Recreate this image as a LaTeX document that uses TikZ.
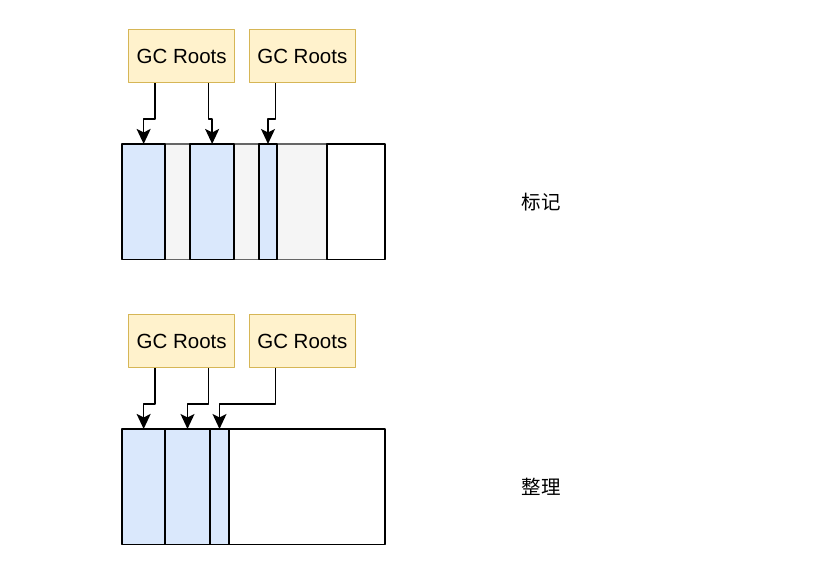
\documentclass[tikz,border=0pt]{standalone}
\usepackage{fontspec}
\setmainfont{Liberation Sans}
\newfontfamily\cjk{Noto Sans CJK SC}
\usetikzlibrary{arrows.meta, calc, positioning}
\definecolor{root_fill}{HTML}{FFF2CC}
\definecolor{root_line}{HTML}{D6B656}
\definecolor{live_fill}{HTML}{DAE8FC}
\definecolor{dead_fill}{HTML}{F5F5F5}
\definecolor{dead_line}{HTML}{666666}
\tikzset{
	root/.style={draw=root_line, fill=root_fill, line width=1.2pt, minimum width=106pt, minimum height=53pt, inner sep=0pt, font=\fontsize{20.5}{24}\selectfont},
	live/.style={draw=black, fill=live_fill, line width=1.8pt, minimum height=115.5pt, inner sep=0pt, outer sep=0pt},
	dead/.style={draw=dead_line, fill=dead_fill, line width=1.8pt, minimum height=115.5pt, inner sep=0pt, outer sep=0pt},
	free/.style={draw=black, fill=white, line width=1.8pt, minimum height=115.5pt, inner sep=0pt, outer sep=0pt},
	ref/.style={line width=1.6pt, -{Stealth[length=15pt,width=14pt,inset=3.5pt]}},
	phase/.style={font=\cjk\fontsize{19.5}{23}\selectfont}
}

\begin{document}
\begin{tikzpicture}[x=1pt,y=-1pt,line join=round]
	\useasboundingbox (0,0) rectangle (817,566);
	% mark
	\node[root] (ra) at (181.7,56.3) {GC Roots};
	\node[root] (rb) at (302.3,56.3) {GC Roots};
	\foreach\n/\xa/\xb/\st in {d1/165.3/190.3/dead, d2/234/258.7/dead, d3/277.3/327.3/dead,
		l1/122/165.3/live, l2/190.3/234/live, l3/258.7/277.3/live, f1/327.3/385.3/free}
	{
		\node[\st, minimum width={\xb-\xa}] (m\n) at ({(\xa+\xb)/2},201.7) {};
	}
	\draw[ref] ($(ra.south west)!.25!(ra.south east)$) -- ++(0,35.5) -| (ml1.north);
	\draw[ref] ($(ra.south west)!.75!(ra.south east)$) -- ++(0,35.5) -| (ml2.north);
	\draw[ref] ($(rb.south west)!.25!(rb.south east)$) -- ++(0,35.5) -| (ml3.north);
	\node[phase] (mark) at (541,202) {标记};
	% compact
	\node[root] (rc) at (181.7,341.3) {GC Roots};
	\node[root] (rd) at (302.3,341.3) {GC Roots};
	\foreach\n/\xa/\xb/\st in {l1/122/165.3/live, l2/165.3/209.7/live, l3/209.7/229.3/live, f1/229.3/385.3/free}
	{
		\node[\st, minimum width={\xb-\xa}] (c\n) at ({(\xa+\xb)/2},486.7) {};
	}
	\draw[ref] ($(rc.south west)!.25!(rc.south east)$) -- ++(0,35.5) -| (cl1.north);
	\draw[ref] ($(rc.south west)!.75!(rc.south east)$) -- ++(0,35.5) -| (cl2.north);
	\draw[ref] ($(rd.south west)!.25!(rd.south east)$) -- ++(0,35.5) -| (cl3.north);
	\node[phase] (compact) at (541,487) {整理};
\end{tikzpicture}
\end{document}
